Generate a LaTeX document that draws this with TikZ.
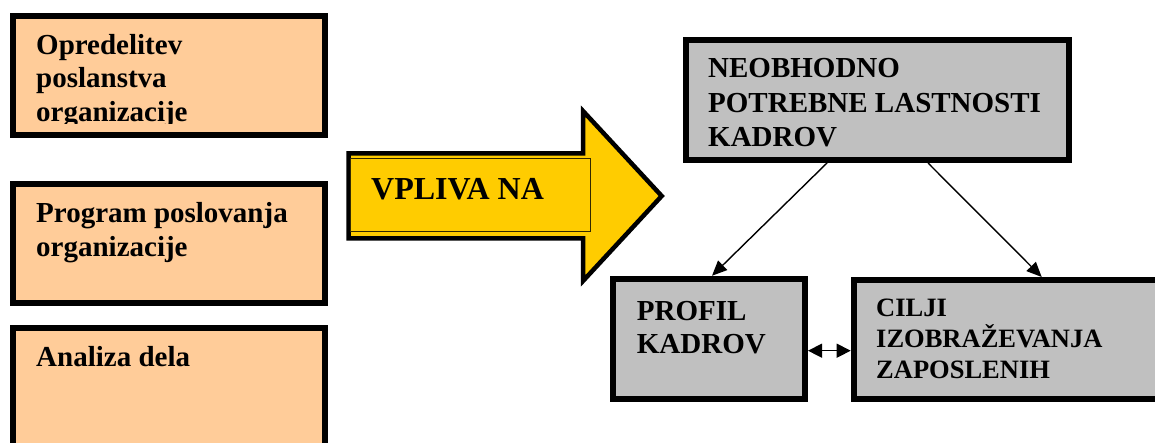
\documentclass[tikz,border=0pt]{standalone}
\usepackage{fontspec}
\setmainfont{Liberation Serif}
\usetikzlibrary{arrows.meta}
\definecolor{peach}{HTML}{FFCC99}
\definecolor{boxgray}{HTML}{C0C0C0}
\definecolor{gold}{HTML}{FFCC00}
\begin{document}
\begin{tikzpicture}[x=1pt,y=-1pt,
  lbox/.style={draw=black, line width=6pt, fill=peach, inner sep=0pt, minimum width=312pt},
  gbox/.style={draw=black, line width=6pt, fill=boxgray, inner sep=0pt},
  txt/.style={inner sep=0pt, anchor=base west, align=left, font=\bfseries\fontsize{29}{33.7}\selectfont},
  conn/.style={line width=1.4pt, -{Triangle[length=15pt,width=13pt]}},
  dconn/.style={line width=1.4pt, {Triangle[length=14pt,width=14pt]}-{Triangle[length=14pt,width=14pt]}},
]
\useasboundingbox (0,0) rectangle (1155,443);
\clip (0,0) rectangle (1155,443);

% left boxes
\node[lbox, minimum height=119pt] (b1) at (169,75.5) {};
\node[lbox, minimum height=119pt] (b2) at (169,243.5) {};
\node[lbox, minimum height=129pt] (b3) at (169,392.5) {};
\begin{scope}
  \clip (13,16) rectangle (325,123.5);
  \node[txt] (t1) at (36,121.7) {Opredelitev\\poslanstva\\organizacije};
\end{scope}
\node[txt] (t2) at (36,256.7) {Program poslovanja\\organizacije};
\node[txt] (t3) at (36,366.7) {Analiza dela};

% big arrow
\draw[line width=4.5pt, fill=gold, miter limit=10]
  (348.5,153.5) -- (583,153.5) -- (583,111) -- (661.7,196) -- (583,281)
  -- (583,238.5) -- (348.5,238.5) -- cycle;
\draw[line width=0.9pt, draw=black!80!gold] (350.5,158.5) rectangle (590,231.5);
\node[inner sep=0pt, anchor=base west, font=\bfseries\fontsize{32}{36}\selectfont] (vpliva) at (371,200) {VPLIVA NA};

% gray boxes
\node[gbox, minimum width=383pt, minimum height=120pt] (top) at (877.5,100) {};
\node[gbox, minimum width=192pt, minimum height=120.5pt] (profil) at (709,339) {};
\node[gbox, minimum width=330pt, minimum height=119pt] (cilji) at (1018.7,339.5) {};

\node[txt, font=\bfseries\fontsize{29}{34.5}\selectfont] (tt) at (708,147) {NEOBHODNO\\POTREBNE LASTNOSTI\\KADROV};
\node[txt, font=\bfseries\fontsize{29}{33}\selectfont] (tp) at (636.7,353) {PROFIL\\KADROV};
\node[txt, font=\bfseries\fontsize{26.5}{30.8}\selectfont] (tc) at (876,378.3) {CILJI\\IZOBRAŽEVANJA\\ZAPOSLENIH};

% connectors
\draw[conn] ([xshift=-50.5pt]top.south) -- ([xshift=3pt]profil.north);
\draw[conn] ([xshift=50.5pt]top.south) -- ([xshift=191pt]cilji.north west);
\draw[dconn] ([yshift=-11.7pt]profil.east) -- ([yshift=-11.2pt]cilji.west);
\end{tikzpicture}
\end{document}
